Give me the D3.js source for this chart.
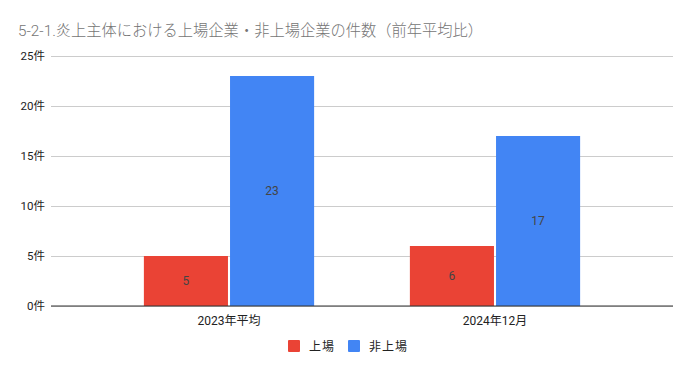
<!DOCTYPE html>
<html><head><meta charset="utf-8">
<script src="https://cdn.jsdelivr.net/npm/d3@7"></script>
<style>body{margin:0;background:#fff;} text{font-family:Roboto,"Noto Sans CJK JP",sans-serif;}</style>
</head><body>
<svg id="c" width="692" height="371"></svg>
<script>
const title = "5-2-1.炎上主体における上場企業・非上場企業の件数（前年平均比）";
const categories = ["2023年平均", "2024年12月"];
const seriesNames = ["上場", "非上場"];
const listed = [5, 6];
const unlisted = [23, 17];
const yTicks = [0, 5, 10, 15, 20, 25];
const colors = ["#ea4335", "#4285f4"];

const svg = d3.select("#c");
const mLeft = 51, mRight = 673, mTop = 56, mBottom = 306;
const y = d3.scaleLinear().domain([0, 25]).range([mBottom, mTop]);
const x = d3.scaleBand().domain(categories).range([96, 628]).paddingInner(0.36).paddingOuter(0.18);
const xs = d3.scaleBand().domain(seriesNames).range([0, x.bandwidth()]).paddingInner(0.024);

svg.append("text").attr("x", 18).attr("y", 36).attr("font-size", 15.5).attr("font-weight", 300)
  .attr("fill", "#757575").attr("textLength", 465).attr("lengthAdjust", "spacingAndGlyphs").text(title);

// gridlines
const yAxis = d3.axisLeft(y).tickValues(yTicks).tickSize(-(mRight - mLeft)).tickFormat(d => d + "件").tickPadding(6);
const ga = svg.append("g").attr("transform", `translate(${mLeft},0)`).call(yAxis);
ga.select(".domain").remove();
ga.selectAll(".tick line").attr("stroke", "#cccccc");
ga.selectAll(".tick text").attr("font-size", 11.5).attr("fill", "#222").attr("x", -6);

const data = categories.map((c, i) => ({cat: c, vals: [listed[i], unlisted[i]]}));
const groups = svg.selectAll(".grp").data(data).join("g").attr("transform", d => `translate(${x(d.cat)},0)`);
groups.selectAll("rect").data(d => d.vals.map((v, j) => ({v, s: seriesNames[j], j})))
  .join("rect")
  .attr("x", d => xs(d.s)).attr("width", xs.bandwidth())
  .attr("y", d => y(d.v)).attr("height", d => y(0) - y(d.v))
  .attr("fill", d => colors[d.j]);
groups.selectAll("text.lbl").data(d => d.vals.map((v, j) => ({v, s: seriesNames[j], j})))
  .join("text").attr("class", "lbl")
  .attr("x", d => xs(d.s) + xs.bandwidth() / 2)
  .attr("y", d => (y(d.v) + y(0)) / 2 + 4)
  .attr("text-anchor", "middle").attr("font-size", 12).attr("fill", "#444")
  .text(d => d.v);

// baseline
svg.append("line").attr("x1", mLeft).attr("x2", mRight).attr("y1", y(0)).attr("y2", y(0)).attr("stroke", "#333").attr("stroke-width", 1);

// x labels
const xAxis = d3.axisBottom(x).tickSize(0).tickPadding(10);
const gx = svg.append("g").attr("transform", `translate(0,${mBottom})`).call(xAxis);
gx.select(".domain").remove();
gx.selectAll("text").attr("font-size", 12).attr("fill", "#222");

// legend
const legendX = [288, 348];
const lg = svg.selectAll(".leg").data(seriesNames).join("g").attr("transform", (d, i) => `translate(${legendX[i]},340)`);
lg.append("rect").attr("width", 12).attr("height", 12).attr("rx", 1).attr("fill", (d, i) => colors[i]);
lg.append("text").attr("x", 21).attr("y", 10.5).attr("font-size", 12).attr("letter-spacing", 1).attr("fill", "#222").text(d => d);
</script>
</body></html>
